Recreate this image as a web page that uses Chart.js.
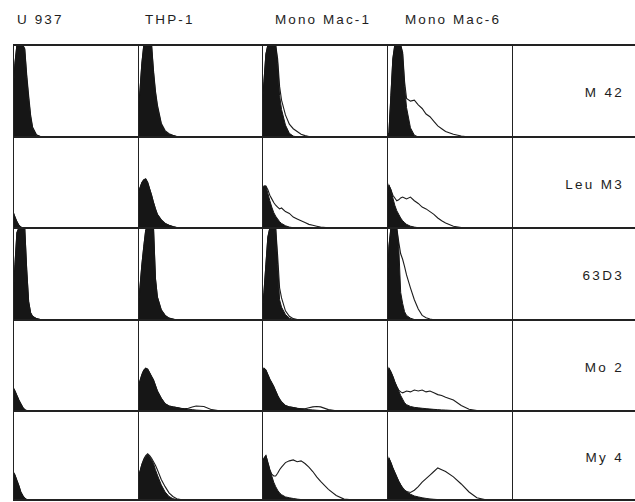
<!DOCTYPE html>
<html><head><meta charset="utf-8">
<script src="https://cdn.jsdelivr.net/npm/chart.js@4/dist/chart.umd.min.js"></script>
<style>
html,body{margin:0;padding:0;background:#fff;}
#wrap{position:relative;width:635px;height:502px;overflow:hidden;font-family:"Liberation Sans",Arial,sans-serif;color:#1e1e1e;}
canvas{position:absolute;}
.hl{position:absolute;height:2px;background:#222;z-index:3;}
.vl{position:absolute;width:1px;background:#222;z-index:3;}
.hdr{position:absolute;top:12px;font-size:13.5px;letter-spacing:2.1px;white-space:nowrap;}
.lab{position:absolute;right:11px;width:120px;text-align:right;font-size:13.5px;letter-spacing:2.3px;white-space:nowrap;}
</style></head><body><div id="wrap"></div>
<script>
// fluorescence channel grid (x of every histogram)
const channels = [0,4,8,12,16,20,24,28,32,36,40,48,56,64,72,80,88,96,104,112,120,136,152,168,184,200,224,256];
const cellLines = ["U 937","THP-1","Mono Mac-1","Mono Mac-6"];
const antibodies = ["M 42","Leu M3","63D3","Mo 2","My 4"];

// relative cell counts (% of panel height); [U937, THP-1, Mono Mac-1, Mono Mac-6]
const controlM42 = [
 [45,80,100,100,100,100,95,65,42,22,10,2,0.5,0,0,0,0,0,0,0,0,0,0,0,0,0,0,0],
 [25,50,80,100,100,100,100,100,70,48,33,14,6,3,1.5,0.5,0,0,0,0,0,0,0,0,0,0,0,0],
 [30,60,90,100,100,100,100,100,80,45,30,13,4,1,0,0,0,0,0,0,0,0,0,0,0,0,0,0],
 [0,5,45,85,100,100,100,100,90,55,32,10,2,0,0,0,0,0,0,0,0,0,0,0,0,0,0,0]];
const stainedM42 = [
 [45,80,100,100,100,100,96,68,45,24,11,2.5,0.6,0,0,0,0,0,0,0,0,0,0,0,0,0,0,0],
 [25,50,80,100,100,100,100,100,72,50,35,15,7,3.5,1.8,0.6,0,0,0,0,0,0,0,0,0,0,0,0],
 [30,60,90,100,100,100,100,100,85,55,40,24,14,9,6,3,1.5,0.5,0,0,0,0,0,0,0,0,0,0],
 [0,5,45,85,100,100,100,100,92,60,42,39,40,35,31,25,22,17,12,9,6,3,1,0,0,0,0,0]];
const controlLeuM3 = [
 [18,12,7,3,1,0,0,0,0,0,0,0,0,0,0,0,0,0,0,0,0,0,0,0,0,0,0,0],
 [35,44,50,53,54,50,43,36,28,21,15,9,5,3,1.5,0.5,0,0,0,0,0,0,0,0,0,0,0,0],
 [38,46,46,38,30,23,17,13,10,7,5,2.5,1,0.3,0,0,0,0,0,0,0,0,0,0,0,0,0,0],
 [30,47,42,33,25,19,15,11,8,6,4,2,1,0.3,0,0,0,0,0,0,0,0,0,0,0,0,0,0]];
const stainedLeuM3 = [
 [18,12,7,3,1,0,0,0,0,0,0,0,0,0,0,0,0,0,0,0,0,0,0,0,0,0,0,0],
 [35,44,50,53,54,50,43,36,28,21,15,9,5,3,1.5,0.5,0,0,0,0,0,0,0,0,0,0,0,0],
 [38,46,46,42,36,32,28,25,23,21,22,18,16,12,10,8,6,4,3,2,1,0.3,0,0,0,0,0,0],
 [30,47,42,36,33,30,31,33,34,33,32,34,30,27,23,21,18,15,11,8,5.5,2,0.5,0,0,0,0,0]];
const control63D3 = [
 [20,60,95,100,100,100,100,55,20,8,4,1.5,0.5,0,0,0,0,0,0,0,0,0,0,0,0,0,0,0],
 [10,35,60,80,98,100,100,100,100,45,25,11,5,2,1,0,0,0,0,0,0,0,0,0,0,0,0,0],
 [5,30,60,90,100,100,100,100,60,22,14,6,2,0.5,0,0,0,0,0,0,0,0,0,0,0,0,0,0],
 [30,80,100,100,100,100,80,30,18,9,5,2,0.5,0,0,0,0,0,0,0,0,0,0,0,0,0,0,0]];
const stained63D3 = [
 [20,60,95,100,100,100,100,55,20,8,4,1.5,0.5,0,0,0,0,0,0,0,0,0,0,0,0,0,0,0],
 [10,35,60,80,98,100,100,100,100,45,25,11,5,2,1,0,0,0,0,0,0,0,0,0,0,0,0,0],
 [5,30,60,90,100,100,100,100,70,35,24,10,4,1.5,0.5,0,0,0,0,0,0,0,0,0,0,0,0,0],
 [30,80,100,100,100,100,85,72,66,58,49,35,22,12,5,2.5,1,0.3,0,0,0,0,0,0,0,0,0,0]];
const controlMo2 = [
 [26,22,17,12,8,4,1.5,0.5,0,0,0,0,0,0,0,0,0,0,0,0,0,0,0,0,0,0,0,0],
 [25,33,40,45,47,46,42,38,34,28,22,14,8,5.5,4.5,3.8,3,2.5,2,1.5,1,0.5,0.2,0,0,0,0,0],
 [42,47,45,40,35,31,27,22,17,13,10,6,4.5,3.8,3,2.5,2,1.5,1.2,0.8,0.5,0.2,0,0,0,0,0,0],
 [35,47,43,38,32,27,22,17,13,9,7,5,4,3.5,3,2.6,2.2,1.8,1.5,1.2,1,0.5,0.2,0,0,0,0,0]];
const stainedMo2 = [
 [26,22,17,12,8,4,1.5,0.5,0,0,0,0,0,0,0,0,0,0,0,0,0,0,0,0,0,0,0,0],
 [25,33,40,45,47,46,42,38,34,28,22,14,8,5.5,4.5,3.8,3,2.5,3,4.5,5.5,5,1.5,0.3,0,0,0,0],
 [42,47,45,40,35,31,27,22,17,13,10,6,4.5,3.8,3,2.5,2.5,3.5,4.5,5,4.5,1.5,0.3,0,0,0,0,0],
 [35,47,43,38,32,27,23,21,20,21,22,21,23,22,23,21,22,20,18,17,15,12,6,2,0.5,0,0,0]];
const controlMy4 = [
 [32,28,22,16,9,5,2,0.5,0,0,0,0,0,0,0,0,0,0,0,0,0,0,0,0,0,0,0,0],
 [25,32,40,45,49,51,49,45,41,34,28,17,9,4,1.5,0.5,0,0,0,0,0,0,0,0,0,0,0,0],
 [38,47,50,42,34,27,20,15,11,8,6,3.5,2.5,1.7,1,0.5,0.2,0,0,0,0,0,0,0,0,0,0,0],
 [35,47,42,36,31,26,21,17,13.5,11,9.5,6.5,4.5,3.5,2.5,1.8,1.2,0.8,0.5,0.3,0,0,0,0,0,0,0,0]];
const stainedMy4 = [
 [32,28,22,16,9,5,2,0.5,0,0,0,0,0,0,0,0,0,0,0,0,0,0,0,0,0,0,0,0],
 [25,32,40,46,50,52,50,47,43,39,34,23,15,8,4,1.5,0.5,0,0,0,0,0,0,0,0,0,0,0],
 [38,47,50,42,34,29,27,27,30,34,37,42,44,45,43,44,41,37,32,26,21,12,5,1,0.2,0,0,0],
 [35,47,42,36,31,26,21,17,13.5,11,9.5,8.5,11,15,20,24,28,32,36,34,32,26,18,9,2.5,0.5,0,0]];

const controlRows = [controlM42, controlLeuM3, control63D3, controlMo2, controlMy4];
const stainedRows = [stainedM42, stainedLeuM3, stained63D3, stainedMo2, stainedMy4];

// layout (pixels)
const colX = [13,138,262,387,512,635];
const rowY = [45,137,228,320,411,500];

const wrap = document.getElementById('wrap');
function el(cls, css, txt){const d=document.createElement('div');d.className=cls;Object.assign(d.style,css);if(txt!==undefined)d.textContent=txt;wrap.appendChild(d);return d;}

const hdrX = [17,145,275,405];
cellLines.forEach((t,i)=>el('hdr',{left:hdrX[i]+'px'},t));
antibodies.forEach((t,r)=>{const cy=(rowY[r]+rowY[r+1])/2+2;el('lab',{top:(cy-8)+'px'},t);});

for(let r=0;r<=5;r++) el('hl',{left:colX[0]+'px',width:(635-colX[0])+'px',top:(rowY[r]-1)+'px'});
for(let c=0;c<5;c++) el('vl',{left:colX[c]+'px',top:rowY[0]+'px',height:(rowY[5]-rowY[0])+'px'});

const pts = arr => arr.map((v,i)=>({x:channels[i],y:v}));
for(let r=0;r<5;r++){
  for(let c=0;c<4;c++){
    const cv=document.createElement('canvas');
    const w=colX[c+1]-colX[c], h=rowY[r+1]-rowY[r];
    cv.width=w; cv.height=h;
    cv.style.left=colX[c]+'px'; cv.style.top=rowY[r]+'px';
    wrap.appendChild(cv);
    new Chart(cv,{
      type:'line',
      data:{datasets:[
        {data:pts(stainedRows[r][c]),fill:false,borderColor:'#1c1c1c',borderWidth:1.1,pointRadius:0,tension:0,order:2},
        {data:pts(controlRows[r][c]),fill:'origin',backgroundColor:'#161616',borderColor:'#161616',borderWidth:1,pointRadius:0,tension:0,order:1}
      ]},
      options:{responsive:false,animation:false,events:[],
        layout:{padding:0},
        plugins:{legend:{display:false},tooltip:{enabled:false}},
        scales:{x:{type:'linear',min:0,max:256,display:false},y:{min:0,max:100,display:false}}}
    });
  }
}
</script></body></html>
